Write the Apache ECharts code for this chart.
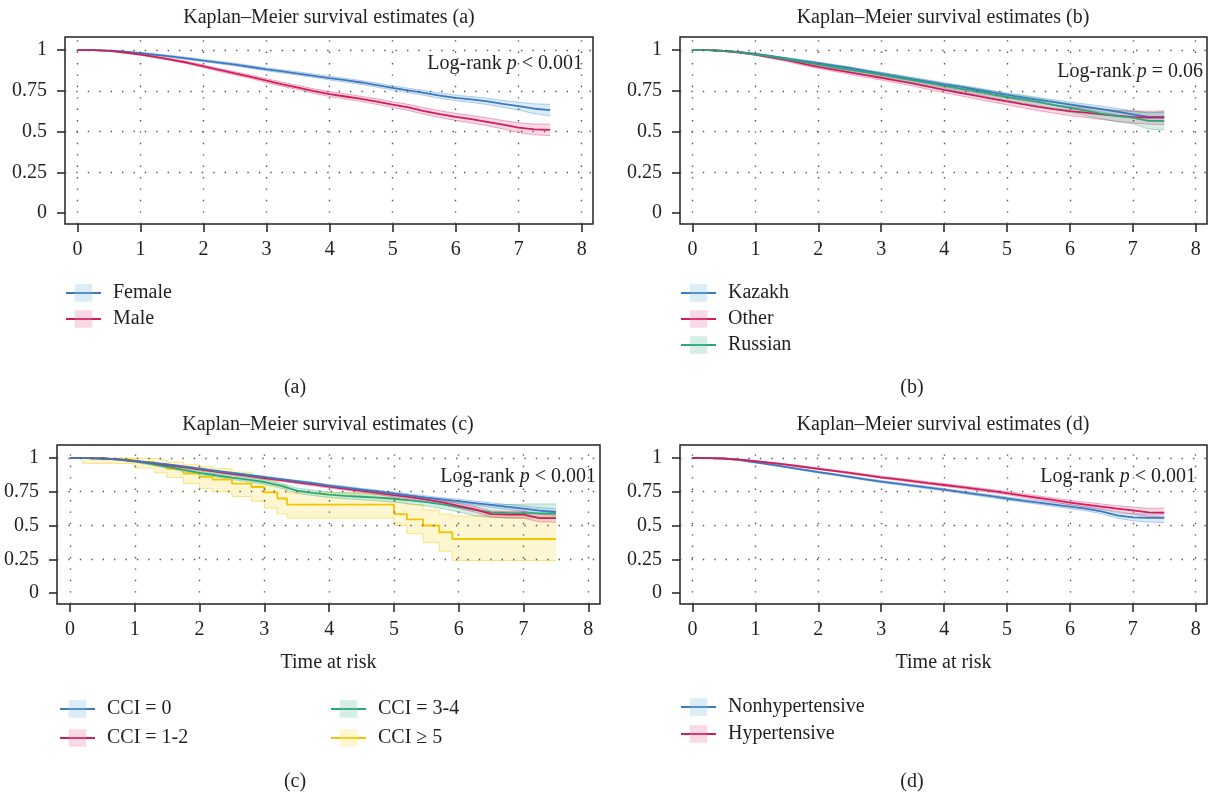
<!DOCTYPE html>
<html>
<head>
<meta charset="utf-8">
<title>Kaplan–Meier survival estimates</title>
<script src="https://cdn.jsdelivr.net/npm/echarts@6/dist/echarts.min.js"></script>
<style>
  html, body { margin: 0; padding: 0; background: #fff; }
  #chart { width: 1208px; height: 797px; }
</style>
</head>
<body>
<div id="chart"></div>
<script>
// time grid (years), shared by the smooth-ish curves
const years = [0, 0.25, 0.5, 0.75, 1, 1.25, 1.5, 1.75, 2, 2.25, 2.5, 2.75, 3, 3.25, 3.5, 3.75,
  4, 4.25, 4.5, 4.75, 5, 5.25, 5.5, 5.75, 6, 6.25, 6.5, 6.75, 7, 7.25, 7.5]
const xTicks = [0, 1, 2, 3, 4, 5, 6, 7, 8]
const yTicks = [0, 0.25, 0.5, 0.75, 1]
const gridYLines = [0.25, 0.5, 0.75, 1]

// (a) sex
const femaleS = [1, .999, .996, .99, .981, .971, .96, .948, .935, .923, .911, .896, .882, .869, .856, .842, .828, .815, .801, .785, .768, .752, .737, .72, .706, .697, .685, .67, .656, .64, .632]
const femaleLo = [1, .998, .994, .987, .977, .966, .954, .941, .928, .915, .903, .887, .873, .859, .846, .831, .817, .803, .789, .772, .755, .738, .722, .704, .689, .679, .666, .649, .632, .61, .597]
const femaleHi = [1, 1, .998, .993, .985, .976, .966, .955, .942, .931, .919, .905, .891, .879, .866, .853, .839, .827, .813, .798, .781, .766, .752, .736, .723, .715, .704, .691, .68, .67, .667]
const maleS = [1, .999, .995, .985, .972, .957, .94, .922, .9, .878, .857, .836, .812, .79, .77, .748, .73, .715, .7, .684, .665, .648, .626, .607, .59, .576, .56, .542, .524, .513, .51]
const maleLo = [1, .998, .993, .982, .968, .952, .934, .915, .892, .869, .847, .825, .8, .777, .757, .734, .715, .699, .684, .667, .647, .629, .606, .586, .568, .553, .536, .516, .494, .48, .475]
const maleHi = [1, 1, .997, .988, .976, .962, .946, .929, .908, .887, .867, .847, .824, .803, .783, .762, .745, .731, .716, .701, .683, .667, .646, .628, .612, .599, .584, .568, .554, .546, .545]

// (b) ethnicity
const kazakhS = [1, .999, .995, .987, .976, .962, .948, .934, .92, .905, .89, .872, .855, .839, .822, .806, .79, .775, .758, .742, .725, .71, .695, .68, .665, .652, .638, .622, .605, .59, .59]
const kazakhLo = [1, .998, .993, .984, .972, .957, .943, .928, .914, .898, .883, .864, .847, .83, .813, .796, .78, .764, .747, .73, .713, .697, .681, .665, .649, .635, .62, .602, .583, .565, .56]
const kazakhHi = [1, 1, .997, .99, .98, .967, .953, .94, .926, .912, .897, .88, .863, .848, .831, .816, .8, .786, .769, .754, .737, .723, .709, .695, .681, .669, .656, .642, .627, .615, .62]
const otherS = [1, .999, .994, .985, .972, .955, .938, .916, .897, .88, .863, .846, .83, .812, .795, .775, .755, .738, .72, .702, .685, .668, .652, .638, .625, .616, .605, .596, .59, .585, .585]
const otherLo = [1, .998, .992, .981, .967, .948, .93, .907, .887, .869, .851, .833, .816, .798, .78, .759, .738, .72, .701, .682, .664, .646, .628, .613, .598, .587, .574, .562, .553, .545, .543]
const otherHi = [1, 1, .996, .989, .977, .962, .946, .925, .907, .891, .875, .859, .844, .826, .81, .791, .772, .756, .739, .722, .706, .69, .676, .663, .652, .645, .636, .63, .627, .625, .627]
const russianS = [1, .999, .995, .986, .974, .96, .945, .928, .912, .896, .88, .865, .85, .833, .816, .798, .78, .764, .748, .73, .712, .697, .682, .662, .645, .628, .61, .595, .585, .565, .565]
const russianLo = [1, .998, .993, .982, .969, .954, .938, .92, .903, .886, .869, .853, .837, .82, .802, .783, .764, .747, .73, .711, .692, .676, .659, .637, .618, .599, .579, .561, .548, .515, .51]
const russianHi = [1, 1, .997, .99, .979, .966, .952, .936, .921, .906, .891, .877, .863, .846, .83, .813, .796, .781, .766, .749, .732, .718, .705, .687, .672, .657, .641, .629, .622, .615, .62]

// (c) Charlson comorbidity index
const cci0S = [1, .999, .997, .99, .978, .966, .952, .937, .921, .905, .889, .874, .858, .843, .828, .813, .795, .781, .766, .752, .737, .722, .707, .693, .68, .666, .652, .638, .625, .61, .6]
const cci0Lo = [1, .998, .995, .987, .975, .962, .948, .932, .916, .9, .883, .868, .852, .836, .821, .805, .787, .772, .757, .742, .727, .711, .695, .68, .666, .651, .636, .62, .605, .588, .575]
const cci0Hi = [1, 1, .999, .993, .981, .97, .956, .942, .926, .91, .895, .88, .864, .85, .835, .821, .803, .79, .775, .762, .747, .733, .719, .706, .694, .681, .668, .656, .645, .632, .625]
const cci12S = [1, .999, .996, .989, .977, .963, .948, .932, .915, .899, .883, .867, .851, .836, .82, .804, .788, .772, .757, .741, .725, .71, .692, .672, .645, .62, .585, .58, .58, .555, .555]
const cci12Lo = [1, .998, .994, .986, .973, .959, .943, .927, .909, .893, .876, .86, .843, .828, .811, .795, .778, .762, .746, .729, .712, .696, .677, .656, .627, .6, .563, .556, .554, .527, .525]
const cci12Hi = [1, 1, .998, .992, .981, .967, .953, .937, .921, .905, .89, .874, .859, .844, .829, .813, .798, .782, .768, .753, .738, .724, .707, .688, .663, .64, .607, .604, .606, .583, .585]
const cci34S = [1, .999, .996, .988, .975, .956, .935, .912, .89, .872, .855, .84, .822, .795, .758, .742, .728, .72, .713, .706, .698, .686, .673, .656, .636, .616, .597, .593, .592, .59, .59]
const cci34Lo = [1, .998, .993, .983, .968, .947, .924, .9, .877, .858, .84, .824, .805, .777, .739, .722, .707, .698, .69, .682, .673, .66, .645, .626, .6, .572, .56, .556, .555, .555, .555]
const cci34Hi = [1, 1, .999, .993, .982, .965, .946, .924, .903, .886, .87, .856, .839, .813, .777, .762, .749, .742, .736, .73, .723, .712, .701, .686, .672, .66, .655, .655, .658, .66, .66]
// CCI >= 5 is a small group: coarse steps at its own event times
const cci5Years = [0, 0.2, 0.9, 1.0, 1.3, 1.5, 1.75, 2.0, 2.2, 2.5, 2.8, 3.0, 3.2, 3.35, 5.0, 5.2, 5.45, 5.7, 5.9, 7.5]
const cci5S = [1, .99, .985, .97, .945, .92, .885, .86, .84, .81, .785, .745, .7, .655, .585, .545, .5, .45, .4, .4]
const cci5Lo = [1, .96, .955, .925, .89, .855, .81, .775, .75, .715, .68, .63, .585, .555, .5, .44, .375, .31, .24, .24]
const cci5Hi = [1, 1, 1, .995, .985, .97, .95, .935, .92, .895, .87, .84, .8, .745, .69, .655, .615, .585, .57, .57]

// (d) hypertension
const nonhypS = [1, .999, .995, .985, .968, .95, .932, .913, .895, .878, .86, .842, .825, .81, .795, .78, .765, .749, .733, .717, .7, .685, .67, .655, .64, .625, .605, .575, .56, .556, .556]
const nonhypLo = [1, .998, .993, .982, .964, .945, .927, .907, .889, .872, .853, .835, .817, .802, .787, .771, .756, .739, .723, .706, .689, .673, .657, .641, .625, .609, .587, .555, .535, .526, .521]
const nonhypHi = [1, 1, .997, .988, .972, .955, .937, .919, .901, .884, .867, .849, .833, .818, .803, .789, .774, .759, .743, .728, .711, .697, .683, .669, .655, .641, .623, .595, .585, .586, .591]
const hypS = [1, .999, .996, .988, .977, .964, .95, .935, .92, .905, .889, .873, .857, .843, .829, .814, .8, .786, .771, .756, .74, .722, .705, .688, .67, .655, .64, .625, .612, .597, .595]
const hypLo = [1, .998, .994, .985, .973, .96, .945, .93, .914, .899, .882, .866, .849, .835, .82, .805, .79, .776, .76, .745, .728, .709, .691, .673, .654, .637, .62, .603, .587, .567, .56]
const hypHi = [1, 1, .998, .991, .981, .968, .955, .94, .926, .911, .896, .88, .865, .851, .838, .823, .81, .796, .782, .767, .752, .735, .719, .703, .686, .673, .66, .647, .637, .627, .63]

// colours: line, ci fill, ci edge
const palette = {
  blue: { line: '#3d79bf', band: 'rgba(140,195,232,0.32)', edge: 'rgba(61,121,191,0.35)' },
  pink: { line: '#d41c5c', band: 'rgba(236,130,170,0.30)', edge: 'rgba(212,28,92,0.35)' },
  green: { line: '#27a97a', band: 'rgba(110,195,165,0.28)', edge: 'rgba(39,169,122,0.35)' },
  yellow: { line: '#f2c500', band: 'rgba(250,228,110,0.32)', edge: 'rgba(242,197,0,0.45)' }
}

const font = {
  fontFamily: '"Liberation Serif", "DejaVu Serif", serif',
  fontSize: 20,
  color: '#231f20',
  fontWeight: 'normal'
}

// panel boxes (a) (b) (c) (d)
const panels = [
  { left: 65, top: 37, width: 528, height: 187, yMin: -0.067, yMax: 1.08, xName: '' },
  { left: 680, top: 37, width: 527, height: 187, yMin: -0.067, yMax: 1.08, xName: '' },
  { left: 57, top: 445, width: 543, height: 159, yMin: -0.081, yMax: 1.096, xName: 'Time at risk' },
  { left: 680, top: 445, width: 527, height: 159, yMin: -0.081, yMax: 1.096, xName: 'Time at risk' }
]

const pairs = (t, v) => t.map((x, i) => [x, v[i]])

// confidence band as one polygon, built from the data through api.coord
function bandSeries(panel, name, t, lo, hi, c, stepped) {
  return {
    type: 'custom', name: name + ' ci', xAxisIndex: panel, yAxisIndex: panel, silent: true, z: 1,
    encode: { x: 0, y: [1, 2] },
    data: t.map((x, i) => [x, lo[i], hi[i]]),
    renderItem(params, api) {
      if (params.dataIndexInside !== 0) return null
      const n = params.dataInsideLength
      const top = []
      const bottom = []
      for (let i = 0; i < n; i++) {
        const x0 = api.value(0, i)
        top.push(api.coord([x0, api.value(2, i)]))
        bottom.push(api.coord([x0, api.value(1, i)]))
        if (stepped && i < n - 1) {
          const x1 = api.value(0, i + 1)
          top.push(api.coord([x1, api.value(2, i)]))
          bottom.push(api.coord([x1, api.value(1, i)]))
        }
      }
      return {
        type: 'polygon',
        shape: { points: top.concat(bottom.reverse()) },
        style: { fill: c.band }
      }
    }
  }
}

// one KM curve: ci band, its two edges, then the estimate
function kmSeries(panel, name, t, s, lo, hi, c, stepped) {
  const base = { type: 'line', xAxisIndex: panel, yAxisIndex: panel, step: stepped ? 'end' : false, symbol: 'none', silent: true }
  return [
    bandSeries(panel, name, t, lo, hi, c, stepped),
    { ...base, name: name + ' lo', data: pairs(t, lo), lineStyle: { color: c.edge, width: 1 }, z: 2 },
    { ...base, name: name + ' hi', data: pairs(t, hi), lineStyle: { color: c.edge, width: 1 }, z: 2 },
    {
      ...base, name, symbol: 'rect', showSymbol: false, data: pairs(t, s),
      lineStyle: { color: c.line, width: 1.8 }, itemStyle: { color: c.band }, z: 3
    }
  ]
}

// dotted reference grid, drawn as mark lines
function gridLines(panel) {
  return {
    type: 'line', xAxisIndex: panel, yAxisIndex: panel, data: [], silent: true,
    markLine: {
      silent: true, symbol: ['none', 'none'], label: { show: false }, animation: false,
      lineStyle: { color: '#555', width: 1.4, type: [1.4, 10] },
      emphasis: { disabled: true },
      data: gridYLines.map(v => ({ yAxis: v })).concat(xTicks.map(v => ({ xAxis: v })))
    }
  }
}

function legendFor(names, colors, left, top, gap) {
  return {
    orient: 'vertical', left, top, padding: 0, itemWidth: 35, itemHeight: 22, itemGap: gap,
    selectedMode: false,
    data: names.map((n, i) => ({ name: n, itemStyle: { color: colors[i].band }, lineStyle: { color: colors[i].line } })),
    textStyle: { ...font, padding: [0, 0, 0, 7] }
  }
}

const titleText = (text, x, y, align) => ({
  text, left: x, top: y, textAlign: align || 'center', textVerticalAlign: 'middle', padding: 0,
  textStyle: { ...font, rich: { i: { ...font, fontStyle: 'italic' } } }
})

const series = [
  gridLines(0), gridLines(1), gridLines(2), gridLines(3),
  ...kmSeries(0, 'Female', years, femaleS, femaleLo, femaleHi, palette.blue),
  ...kmSeries(0, 'Male', years, maleS, maleLo, maleHi, palette.pink),
  ...kmSeries(1, 'Kazakh', years, kazakhS, kazakhLo, kazakhHi, palette.blue),
  ...kmSeries(1, 'Other', years, otherS, otherLo, otherHi, palette.pink),
  ...kmSeries(1, 'Russian', years, russianS, russianLo, russianHi, palette.green),
  ...kmSeries(2, 'CCI ≥ 5', cci5Years, cci5S, cci5Lo, cci5Hi, palette.yellow, true),
  ...kmSeries(2, 'CCI = 3-4', years, cci34S, cci34Lo, cci34Hi, palette.green),
  ...kmSeries(2, 'CCI = 1-2', years, cci12S, cci12Lo, cci12Hi, palette.pink),
  ...kmSeries(2, 'CCI = 0', years, cci0S, cci0Lo, cci0Hi, palette.blue),
  ...kmSeries(3, 'Nonhypertensive', years, nonhypS, nonhypLo, nonhypHi, palette.blue),
  ...kmSeries(3, 'Hypertensive', years, hypS, hypLo, hypHi, palette.pink)
]

const option = {
  animation: false,
  backgroundColor: '#fff',
  title: [
    titleText('Kaplan–Meier survival estimates (a)', 329, 18),
    titleText('Kaplan–Meier survival estimates (b)', 943, 18),
    titleText('Kaplan–Meier survival estimates (c)', 328, 425),
    titleText('Kaplan–Meier survival estimates (d)', 943, 425),
    titleText('Log-rank {i|p} < 0.001', 583, 64, 'right'),
    titleText('Log-rank {i|p} = 0.06', 1203, 72, 'right'),
    titleText('Log-rank {i|p} < 0.001', 596, 477, 'right'),
    titleText('Log-rank {i|p} < 0.001', 1196, 477, 'right'),
    titleText('(a)', 295, 388),
    titleText('(b)', 912, 388),
    titleText('(c)', 295, 782),
    titleText('(d)', 912, 782)
  ],
  legend: [
    legendFor(['Female', 'Male'], [palette.blue, palette.pink], 65, 283, 6),
    legendFor(['Kazakh', 'Other', 'Russian'], [palette.blue, palette.pink, palette.green], 680, 283, 6),
    legendFor(['CCI = 0', 'CCI = 1-2'], [palette.blue, palette.pink], 59, 699, 9),
    legendFor(['CCI = 3-4', 'CCI ≥ 5'], [palette.green, palette.yellow], 330, 699, 9),
    legendFor(['Nonhypertensive', 'Hypertensive'], [palette.blue, palette.pink], 680, 697, 7)
  ],
  grid: panels.map(p => ({
    left: p.left, top: p.top, width: p.width, height: p.height,
    show: true, borderColor: '#222', borderWidth: 1.5, backgroundColor: 'transparent'
  })),
  xAxis: panels.map((p, i) => ({
    type: 'value', gridIndex: i, min: -0.2, max: 8.18, position: 'bottom',
    axisLine: { show: false, onZero: false },
    splitLine: { show: false },
    axisTick: { show: true, inside: false, customValues: xTicks, length: 8, lineStyle: { color: '#222', width: 1.5 } },
    axisLabel: { customValues: xTicks, margin: 16, ...font },
    name: p.xName, nameLocation: 'middle', nameGap: 49, nameTextStyle: font
  })),
  yAxis: panels.map((p, i) => ({
    type: 'value', gridIndex: i, min: p.yMin, max: p.yMax, position: 'left',
    axisLine: { show: false, onZero: false },
    splitLine: { show: false },
    axisTick: { show: true, inside: false, customValues: yTicks, length: 8, lineStyle: { color: '#222', width: 1.5 } },
    axisLabel: { customValues: yTicks, margin: 18, ...font }
  })),
  series
}

const myChart = echarts.init(document.getElementById('chart'))
myChart.setOption(option)
window.addEventListener('resize', () => {
  myChart.resize()
})
</script>
</body>
</html>
